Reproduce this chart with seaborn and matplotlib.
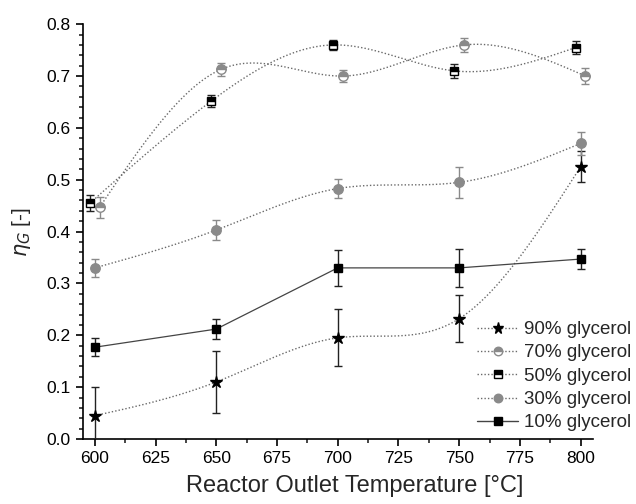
import numpy as np
import pandas as pd
import matplotlib
matplotlib.use("Agg")
import matplotlib.pyplot as plt
from matplotlib.lines import Line2D
from matplotlib.ticker import MultipleLocator
import seaborn as sns

# ---- data ----
temps = [600, 650, 700, 750, 800]
labels = ["90% glycerol", "70% glycerol", "50% glycerol", "30% glycerol", "10% glycerol"]
g90 = [0.045, 0.110, 0.195, 0.232, 0.525]
g90_err = [0.055, 0.060, 0.055, 0.045, 0.030]
g70 = [0.447, 0.713, 0.700, 0.760, 0.700]
g70_err = [0.020, 0.013, 0.012, 0.013, 0.015]
g50 = [0.455, 0.652, 0.760, 0.710, 0.755]
g50_err = [0.015, 0.012, 0.010, 0.013, 0.013]
g30 = [0.330, 0.403, 0.483, 0.495, 0.570]
g30_err = [0.017, 0.020, 0.018, 0.030, 0.023]
g10 = [0.177, 0.212, 0.330, 0.330, 0.347]
g10_err = [0.017, 0.020, 0.035, 0.037, 0.020]
x_shift = {"90% glycerol": 0, "70% glycerol": 2, "50% glycerol": -2, "30% glycerol": 0, "10% glycerol": 0}


def smooth_curve(x, y, n=300):
    """Natural cubic spline used only to render the connecting curve."""
    x = np.asarray(x, float); y = np.asarray(y, float)
    k = len(x); h = np.diff(x)
    A = np.zeros((k, k)); b = np.zeros(k)
    A[0, 0] = A[-1, -1] = 1
    for i in range(1, k - 1):
        A[i, i - 1] = h[i - 1]; A[i, i] = 2 * (h[i - 1] + h[i]); A[i, i + 1] = h[i]
        b[i] = 6 * ((y[i + 1] - y[i]) / h[i] - (y[i] - y[i - 1]) / h[i - 1])
    M = np.linalg.solve(A, b)
    xs = np.linspace(x[0], x[-1], n); ys = np.empty_like(xs)
    for j, xv in enumerate(xs):
        i = min(np.searchsorted(x, xv, side="right") - 1, k - 2)
        t1 = x[i + 1] - xv; t0 = xv - x[i]
        ys[j] = (M[i] * t1 ** 3 + M[i + 1] * t0 ** 3) / (6 * h[i]) \
            + (y[i] / h[i] - M[i] * h[i] / 6) * t1 + (y[i + 1] / h[i] - M[i + 1] * h[i] / 6) * t0
    return xs, ys


sns.set_style("ticks")
plt.rcParams["font.family"] = ["Liberation Sans", "DejaVu Sans"]
plt.rcParams["mathtext.fontset"] = "dejavusans"

fig = plt.figure(figsize=(6.36, 5.04), dpi=100)
ax = fig.add_axes([0.130, 0.129, 0.802, 0.823])

GRAY = "#8a8a8a"
LINEGRAY = "#6a6a6a"
series = {
    "90% glycerol": dict(y=g90, e=g90_err, marker="*", ms=9, fc="black", alt="black", ec="black", ecol="#222222", fs="full", ls=":", smooth=True),
    "70% glycerol": dict(y=g70, e=g70_err, marker="o", ms=6.8, fc=GRAY, alt="white", ec=GRAY, ecol=GRAY, fs="top", ls=":", smooth=True),
    "50% glycerol": dict(y=g50, e=g50_err, marker="s", ms=5.8, fc="black", alt="white", ec="black", ecol="#222222", fs="top", ls=":", smooth=True),
    "30% glycerol": dict(y=g30, e=g30_err, marker="o", ms=6.8, fc=GRAY, alt=GRAY, ec=GRAY, ecol=GRAY, fs="full", ls=":", smooth=True),
    "10% glycerol": dict(y=g10, e=g10_err, marker="s", ms=5.8, fc="black", alt="black", ec="black", ecol="#222222", fs="full", ls="-", smooth=False),
}

handles = []
for lab in labels:
    s = series[lab]
    xs = [t + x_shift[lab] for t in temps]
    if s["smooth"]:
        cx, cy = smooth_curve(xs, s["y"])
        sns.lineplot(x=cx, y=cy, ax=ax, color=LINEGRAY, linestyle=(0, (1, 1.5)), linewidth=1.0, zorder=2)
    else:
        sns.lineplot(x=xs, y=s["y"], ax=ax, color="#444444", linestyle="-", linewidth=0.9, zorder=2)
    ax.errorbar(xs, s["y"], yerr=s["e"], fmt="none", ecolor=s["ecol"], elinewidth=1.0,
                capsize=3, capthick=1.0, zorder=3)
    ax.plot(xs, s["y"], linestyle="none", marker=s["marker"], markersize=s["ms"],
            markerfacecolor=s["fc"], markerfacecoloralt=s["alt"], markeredgecolor=s["ec"],
            fillstyle=s["fs"], markeredgewidth=1.0, zorder=4)
    handles.append(Line2D([0], [0], color=LINEGRAY if s["smooth"] else "#444444",
                          linestyle=(0, (1, 1.5)) if s["smooth"] else "-", linewidth=1.0,
                          marker=s["marker"], markersize=s["ms"] * 0.9, markerfacecolor=s["fc"],
                          markerfacecoloralt=s["alt"], markeredgecolor=s["ec"], fillstyle=s["fs"]))

ax.set_xlim(595, 805)
ax.set_ylim(0, 0.8)
ax.set_xticks([600, 625, 650, 675, 700, 725, 750, 775, 800])
ax.xaxis.set_minor_locator(MultipleLocator(12.5))
ax.yaxis.set_major_locator(MultipleLocator(0.1))
ax.yaxis.set_minor_locator(MultipleLocator(0.02))
ax.yaxis.set_major_formatter(matplotlib.ticker.FormatStrFormatter("%.1f"))
ax.tick_params(axis="both", which="major", direction="out", length=5, width=1.2, labelsize=12.5, colors="black")
ax.tick_params(axis="both", which="minor", direction="out", length=3, width=1.2)
for sp in ["left", "bottom"]:
    ax.spines[sp].set_linewidth(1.2)
    ax.spines[sp].set_color("black")
sns.despine(ax=ax)

ax.set_xlabel("Reactor Outlet Temperature [°C]", fontsize=17)
ax.xaxis.set_label_coords(0.533, -0.088)
ax.set_ylabel(r"$\eta_G$ [-]", fontsize=15, labelpad=10)

fig.legend(handles, labels, loc="lower right", bbox_to_anchor=(1.013, 0.118), frameon=False,
           fontsize=13.5, handlelength=2.2, handletextpad=0.3, labelspacing=0.33, borderpad=0.2)

fig.savefig("out.png", dpi=100)
